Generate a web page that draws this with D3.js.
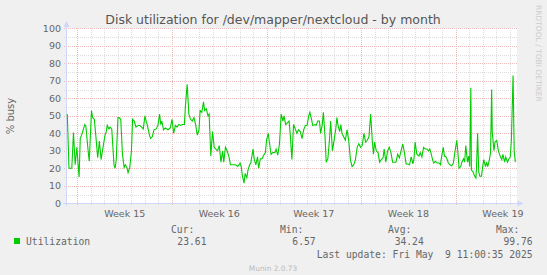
<!DOCTYPE html>
<html>
<head>
<meta charset="utf-8">
<script src="https://cdn.jsdelivr.net/npm/d3@7"></script>
<style>
  body { margin: 0; background: #f0f0f0; }
  svg { display: block; }
  text { font-family: "DejaVu Sans", sans-serif; fill: #666; }
  .mono { font-family: "DejaVu Sans Mono", monospace; white-space: pre; }
</style>
</head>
<body>
<script>
// hours after Mon 2025-04-07 00:00 UTC
const sampleHour = [
  -18, -15, -10, -7, -4, -1, 1, 3, 5, 8, 13, 15, 19, 21, 25, 27, 30, 33, 36, 39,
  42, 45, 49, 51, 53, 56, 58, 61, 65, 67, 69, 72, 74, 77, 80, 83, 85, 88, 90, 93,
  96, 98, 101, 104, 108, 111, 114, 117, 120, 122, 124, 128, 130, 133, 136, 140, 143, 146, 148, 150,
  153, 156, 161, 165, 168, 171, 174, 177, 180, 183, 186, 190, 192, 195, 198, 201, 204, 207, 210, 213,
  216, 218, 221, 224, 226, 229, 232, 234, 237, 240, 243, 246, 249, 252, 255, 258, 260, 263, 266, 269,
  272, 276, 281, 285, 289, 291, 293, 296, 298, 301, 303, 306, 308, 312, 314, 317, 320, 322, 325, 328,
  331, 334, 336, 339, 341, 344, 347, 351, 353, 356, 359, 362, 365, 367, 370, 373, 376, 378, 381, 384,
  387, 390, 393, 396, 399, 402, 405, 408, 411, 413, 416, 418, 422, 424, 427, 430, 432, 435, 437, 440,
  442, 445, 448, 450, 453, 456, 459, 461, 463, 466, 468, 470, 473, 476, 479, 482, 485, 488, 491, 494,
  497, 500, 503, 506, 509, 512, 515, 518, 521, 524, 526, 528, 531, 534, 537, 540, 543, 545, 548, 551,
  554, 557, 560, 563, 566, 569, 572, 575, 578, 581, 584, 587, 590, 593, 596, 598, 600, 603, 607, 609,
  612, 615, 618, 621, 624, 626, 628, 631, 633, 636, 639, 643, 645, 647, 650, 652, 655, 657, 659, 662,
  665, 668, 671, 674, 676, 678, 681, 683, 686, 688, 690, 693, 695, 697, 699, 700, 703, 705, 708, 709,
  711, 713, 715, 718, 720, 722, 725, 727, 729, 732, 734, 736, 737, 740, 742, 745, 748, 751, 754, 756,
  759, 761, 764, 766, 769, 771, 774, 776, 778
];
const busy = [
  51, 20, 20, 40.5, 22, 32, 23, 15, 37, 39.5, 45, 44, 30, 24, 53, 49, 48, 37.5, 26, 35.5,
  25, 31, 39, 40.5, 44.5, 42.5, 43.5, 42.5, 22, 20, 25, 49, 49, 48, 28, 20.5, 22, 20.5, 17.5, 20.5,
  30, 48, 47, 43.5, 44.5, 44.5, 43.5, 42.5, 50, 47, 45, 39, 37, 38, 42, 42.5, 44.5, 51, 45, 47,
  42, 43, 42, 43, 48, 40, 44.5, 43.5, 45, 44.5, 45, 45, 56, 68, 51, 48, 47, 49, 45, 39,
  42, 53, 52, 58, 53, 54, 50, 51, 27, 41, 32, 31, 30, 33, 23.5, 30, 23.5, 32, 30, 27,
  22, 22, 22, 21, 23, 21, 16, 11.5, 17, 14.5, 19, 22, 23, 31, 25.5, 22, 26.5, 20, 25.5, 25.5,
  27.5, 29, 36, 40, 35, 28, 29, 29, 31, 27.5, 34, 51, 47, 50, 45, 46, 47, 40, 25, 45,
  42.5, 40, 42, 41, 37, 42, 44.5, 44.5, 50, 52, 48, 44.5, 45, 44.5, 47, 47, 40, 45, 52, 37.5,
  23.5, 25.5, 37, 47, 30, 36, 42.5, 49, 44.5, 41, 45, 40, 38, 36, 42, 36, 25, 21, 22, 25,
  32, 34, 32, 33, 40, 35, 36, 38, 51, 35, 28, 35, 30, 29, 23.5, 25, 26, 31, 23.5, 30,
  32, 29, 23.5, 23.5, 23.5, 28, 26, 30, 34, 29, 22.5, 22.5, 22, 26.5, 22.5, 25.5, 35, 28, 27, 29,
  26.5, 32, 31, 31, 30, 31, 29, 25, 23, 24, 23, 23, 22, 26.5, 32, 27, 26.5, 25, 23, 22,
  21.5, 23, 30, 36, 29, 20, 21, 23.5, 25.5, 23.5, 33, 23.5, 27, 21, 66, 19, 18, 16, 14.5, 20,
  40, 18, 15.5, 15.5, 21, 25, 21, 23.5, 21, 25, 29, 65, 41, 30, 35, 36, 30, 27, 25, 28,
  23.5, 26.5, 23.5, 25, 26.5, 36, 73, 30, 23.5
];
const yTicks = [0, 10, 20, 30, 40, 50, 60, 70, 80, 90, 100];
const legendHeads = ["Cur:", "Min:", "Avg:", "Max:"];
const legendValues = ["23.61", "6.57", "34.24", "99.76"];

const W = 547, H = 275;
const base = Date.UTC(2025, 3, 7);
const hr = 3600 * 1000;
const t0 = new Date(base - 19.4 * hr), t1 = new Date(base + 781 * hr);

const x = d3.scaleUtc().domain([t0, t1]).range([66.5, 517]);
const y = d3.scaleLinear().domain([0, 100]).range([203.3, 28.3]);

const svg = d3.select("body").append("svg").attr("width", W).attr("height", H);

svg.append("rect").attr("width", W).attr("height", H).attr("fill", "#f0f0f0");
svg.append("rect").attr("x", 67).attr("y", 28).attr("width", 450).attr("height", 175.5).attr("fill", "#fff");

// grid
const minorC = "#dddddd", majorC = "#eebbbb";
const days = d3.utcDay.range(d3.utcDay.ceil(t0), t1);
const grid = svg.append("g").attr("stroke-dasharray", "1,1").attr("stroke-width", 1);
days.forEach(d => {
  const major = d.getUTCDay() === 1;
  const px = Math.round(x(d)) + 0.5;
  grid.append("line").attr("x1", px).attr("x2", px).attr("y1", 28).attr("y2", major ? 206 : 205)
    .attr("stroke", major ? majorC : minorC);
});
d3.range(0, 101, 5).forEach(v => {
  if (v === 0) return;
  const py = Math.round(y(v)) + 0.5;
  grid.append("line").attr("x1", 64).attr("x2", 518).attr("y1", py).attr("y2", py)
    .attr("stroke", v % 10 === 0 ? majorC : minorC);
});

// axes
const axisC = "#cfd6f8";
svg.append("line").attr("x1", 66.5).attr("x2", 66.5).attr("y1", 206).attr("y2", 25).attr("stroke", axisC);
svg.append("line").attr("x1", 63).attr("x2", 519).attr("y1", 203.5).attr("y2", 203.5).attr("stroke", axisC);
svg.append("path").attr("d", "M66.5,21 L69.5,27 L63.5,27 Z").attr("fill", axisC);
svg.append("path").attr("d", "M523.5,203.5 L517.5,200.5 L517.5,206.5 Z").attr("fill", axisC);

// y labels
svg.append("g").selectAll("text").data(yTicks).join("text")
  .attr("x", 61).attr("y", d => y(d) + 3.5).attr("text-anchor", "end")
  .attr("font-size", "9.5px").text(d => d);

// week labels (only weeks whose middle lies inside the plot)
const mondays = d3.utcMonday.range(d3.utcMonday.floor(t0), t1)
  .filter(d => { const c = x(new Date(+d + 3.5 * 24 * hr)); return c > 70 && c < 517; });
svg.append("g").selectAll("text").data(mondays).join("text")
  .attr("x", d => x(new Date(+d + 3.5 * 24 * hr))).attr("y", 216.5)
  .attr("text-anchor", "middle").attr("font-size", "9.5px")
  .text(d => "Week " + (+d3.utcFormat("%V")(d)));

// data line
const pts = sampleHour.map((h, i) => [new Date(base + h * hr), busy[i]]);
svg.append("path").datum(pts)
  .attr("fill", "none").attr("stroke", "#00cc00").attr("stroke-width", 1.1)
  .attr("d", d3.line().x(d => x(d[0])).y(d => y(d[1])));

// title
svg.append("text").attr("x", 273).attr("y", 24).attr("text-anchor", "middle")
  .attr("font-size", "12.5px").style("fill", "#555")
  .text("Disk utilization for /dev/mapper/nextcloud - by month");

// unit label
svg.append("text").attr("transform", "translate(14,116) rotate(-90)")
  .attr("text-anchor", "middle").attr("font-size", "10px").text("% busy");

// watermark
svg.append("text").attr("transform", "translate(535.5,5) rotate(90)")
  .attr("font-size", "7.5px").style("fill", "#cccccc").text("RRDTOOL / TOBI OETIKER");

// legend
const colHead = [171, 280, 388, 496];
const colVal = [206.5, 315.7, 423.8, 532.6];
svg.append("g").selectAll("text").data(legendHeads).join("text")
  .attr("class", "mono").attr("x", (d, i) => colHead[i]).attr("y", 232.5)
  .attr("font-size", "9.7px").text(d => d);
svg.append("g").selectAll("text").data(legendValues).join("text")
  .attr("class", "mono").attr("x", (d, i) => colVal[i]).attr("y", 244.5)
  .attr("text-anchor", "end").attr("font-size", "9.7px").text(d => d);
svg.append("rect").attr("x", 14).attr("y", 238).attr("width", 6).attr("height", 6).attr("fill", "#00cc00");
svg.append("text").attr("class", "mono").attr("x", 26).attr("y", 244.5)
  .attr("font-size", "9.7px").text("Utilization");
svg.append("text").attr("class", "mono").attr("x", 532.6).attr("y", 257.5)
  .attr("text-anchor", "end").attr("font-size", "9.7px")
  .text("Last update: Fri May  9 11:00:35 2025");
svg.append("text").attr("x", 273).attr("y", 270.5).attr("text-anchor", "middle")
  .attr("font-size", "7.4px").style("fill", "#bbbbbb").text("Munin 2.0.73");
</script>
</body>
</html>
